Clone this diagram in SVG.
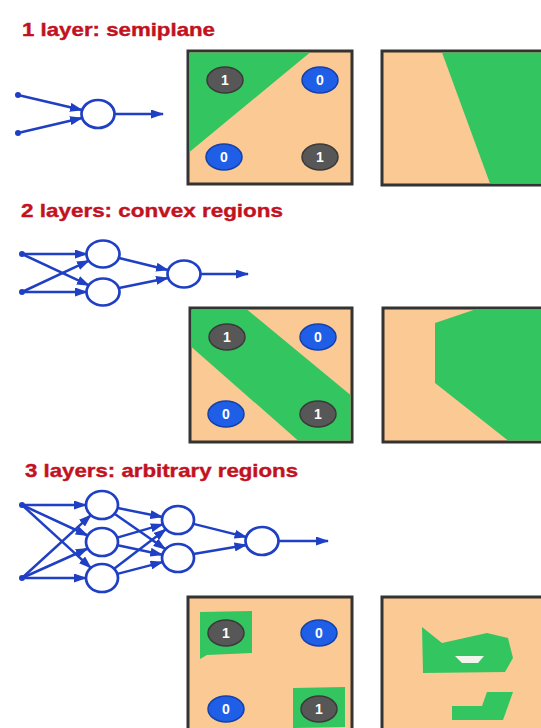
<svg xmlns="http://www.w3.org/2000/svg" width="541" height="728" viewBox="0 0 541 728">
<style>
.title{font-family:"Liberation Sans",Arial,sans-serif;font-weight:bold;font-size:19px;fill:#c3121f;stroke:#c3121f;stroke-width:0.4}
.box{stroke:#333;stroke-width:3;fill:#fbc993}
.g{fill:#33c560}
.one{fill:#575757;stroke:#3a3a3a;stroke-width:1.5}
.zero{fill:#1f5ee6;stroke:#1540a8;stroke-width:1.5}
.lbl{font-family:"Liberation Sans",Arial,sans-serif;font-weight:bold;font-size:14px;fill:#fff;text-anchor:middle}
.n{fill:#fff;stroke:#1f3fc4;stroke-width:2.7}
.c line{stroke:#1f3fc4;stroke-width:2.5}
.c line.a{marker-end:url(#ah)}
.dot{fill:#1f3fc4}
</style>
<defs>
<marker id="ah" markerUnits="userSpaceOnUse" markerWidth="13" markerHeight="9" refX="12" refY="4.5" orient="auto">
<path d="M0,0 L13,4.5 L0,9 z" fill="#1f3fc4"/>
</marker>
</defs>
<rect width="541" height="728" fill="#fff"/>

<text class="title" x="22" y="36" textLength="193" lengthAdjust="spacingAndGlyphs">1 layer: semiplane</text>
<text class="title" x="21" y="217" textLength="262" lengthAdjust="spacingAndGlyphs">2 layers: convex regions</text>
<text class="title" x="25" y="477" textLength="273" lengthAdjust="spacingAndGlyphs">3 layers: arbitrary regions</text>

<!-- Section 1 -->
<g id="box1a">
<rect class="box" x="188" y="51" width="164" height="133"/>
<polygon class="g" points="189.5,52.5 310,52.5 189.5,152"/>
<ellipse class="one" cx="225" cy="80" rx="18" ry="13"/><text class="lbl" x="225" y="85">1</text>
<ellipse class="zero" cx="320" cy="80" rx="18" ry="13"/><text class="lbl" x="320" y="85">0</text>
<ellipse class="zero" cx="224" cy="157" rx="18" ry="13"/><text class="lbl" x="224" y="162">0</text>
<ellipse class="one" cx="320" cy="157" rx="18" ry="13"/><text class="lbl" x="320" y="162">1</text>
</g>
<g id="box1b">
<rect class="box" x="382" y="51" width="170" height="134"/>
<polygon class="g" points="442,52.5 545,52.5 545,183.5 490,183.5"/>
</g>

<g id="net1">
<circle class="dot" cx="18" cy="95" r="3"/>
<circle class="dot" cx="18" cy="133" r="3"/>
<ellipse id="n1o" class="n" cx="98" cy="114" rx="16.5" ry="14"/>
</g>
<g id="conn1" class="c">
<line class="a" x1="18" y1="95" x2="82" y2="110"/>
<line class="a" x1="18" y1="133" x2="82" y2="118"/>
<line class="a" x1="115" y1="114" x2="163" y2="114"/>
</g>

<!-- Section 2 -->
<g id="box2a">
<rect class="box" x="190" y="308" width="162" height="134"/>
<polygon class="g" points="191.5,309.5 247,309.5 350.5,395 350.5,440.5 298,440.5 191.5,347"/>
<ellipse class="one" cx="227" cy="337" rx="18" ry="13"/><text class="lbl" x="227" y="342">1</text>
<ellipse class="zero" cx="318" cy="337" rx="18" ry="13"/><text class="lbl" x="318" y="342">0</text>
<ellipse class="zero" cx="226" cy="414" rx="18" ry="13"/><text class="lbl" x="226" y="419">0</text>
<ellipse class="one" cx="318" cy="414" rx="18" ry="13"/><text class="lbl" x="318" y="419">1</text>
</g>
<g id="box2b">
<rect class="box" x="383" y="308" width="170" height="134"/>
<polygon class="g" points="475,309.5 545,309.5 545,440.5 508,440.5 435,383 435,323"/>
</g>

<g id="net2">
<circle class="dot" cx="22" cy="254" r="3"/>
<circle class="dot" cx="22" cy="292" r="3"/>
<ellipse class="n" cx="103" cy="254" rx="16.5" ry="13.5"/>
<ellipse class="n" cx="103" cy="292" rx="16.5" ry="13.5"/>
<ellipse class="n" cx="184" cy="274" rx="16.5" ry="13.5"/>
</g>
<g id="conn2" class="c">
<line class="a" x1="22" y1="254" x2="87" y2="254"/>
<line class="a" x1="22" y1="254" x2="89" y2="285.4"/>
<line class="a" x1="22" y1="292" x2="89" y2="260.6"/>
<line class="a" x1="22" y1="292" x2="87" y2="292"/>
<line class="a" x1="119" y1="258" x2="168" y2="270"/>
<line class="a" x1="119" y1="288" x2="168" y2="278"/>
<line class="a" x1="200" y1="274" x2="248" y2="274"/>
</g>

<!-- Section 3 -->
<g id="box3a">
<rect class="box" x="188" y="597" width="164" height="145"/>
<polygon class="g" points="200,612 252,611 252,653 207,655 200,659"/>
<polygon class="g" points="293,688 345,687 345,727 293,728"/>
<ellipse class="one" cx="226" cy="633" rx="18" ry="13"/><text class="lbl" x="226" y="638">1</text>
<ellipse class="zero" cx="319" cy="633" rx="18" ry="13"/><text class="lbl" x="319" y="638">0</text>
<ellipse class="zero" cx="226" cy="709" rx="18" ry="13"/><text class="lbl" x="226" y="714">0</text>
<ellipse class="one" cx="319" cy="709" rx="18" ry="13"/><text class="lbl" x="319" y="714">1</text>
</g>
<g id="box3b">
<rect class="box" x="382" y="597" width="170" height="145"/>
<polygon class="g" points="422,627 442,643 487,633 508,638 513,658 505,672 423,673"/>
<polygon fill="#f4f4ee" points="455,656 484,656 478,663 462,663"/>
<polygon class="g" points="487,692 513,692 503,720 452,720 452,706 482,706"/>
</g>

<g id="net3">
<circle class="dot" cx="22" cy="505" r="3"/>
<circle class="dot" cx="22" cy="578" r="3"/>
<ellipse class="n" cx="102" cy="505" rx="16" ry="14"/>
<ellipse class="n" cx="102" cy="542" rx="16" ry="14"/>
<ellipse class="n" cx="102" cy="578" rx="16" ry="14"/>
<ellipse class="n" cx="178" cy="520" rx="16" ry="14"/>
<ellipse class="n" cx="178" cy="558" rx="16" ry="14"/>
<ellipse class="n" cx="262" cy="541" rx="16.5" ry="14"/>
</g>
<g id="conn3" class="c">
<line class="a" x1="22" y1="505" x2="86" y2="505"/>
<line class="a" x1="22" y1="505" x2="87.8" y2="535.5"/>
<line class="a" x1="22" y1="505" x2="90.9" y2="567.9"/>
<line class="a" x1="22" y1="578" x2="90.9" y2="515.1"/>
<line class="a" x1="22" y1="578" x2="87.8" y2="548.5"/>
<line class="a" x1="22" y1="578" x2="86" y2="578"/>
<line class="a" x1="117.7" y1="508.1" x2="162.3" y2="516.9"/>
<line class="a" x1="114.5" y1="513.7" x2="165.5" y2="549.3"/>
<line class="a" x1="117.2" y1="537.6" x2="162.8" y2="524.4"/>
<line class="a" x1="117.7" y1="545.3" x2="162.3" y2="554.7"/>
<line class="a" x1="114.1" y1="568.8" x2="165.9" y2="529.2"/>
<line class="a" x1="117.5" y1="573.9" x2="162.5" y2="562.1"/>
<line class="a" x1="193.5" y1="523.9" x2="246.5" y2="537.1"/>
<line class="a" x1="193.5" y1="554.1" x2="246.5" y2="544.9"/>
<line class="a" x1="278" y1="541" x2="328" y2="541"/>
</g>
</svg>
